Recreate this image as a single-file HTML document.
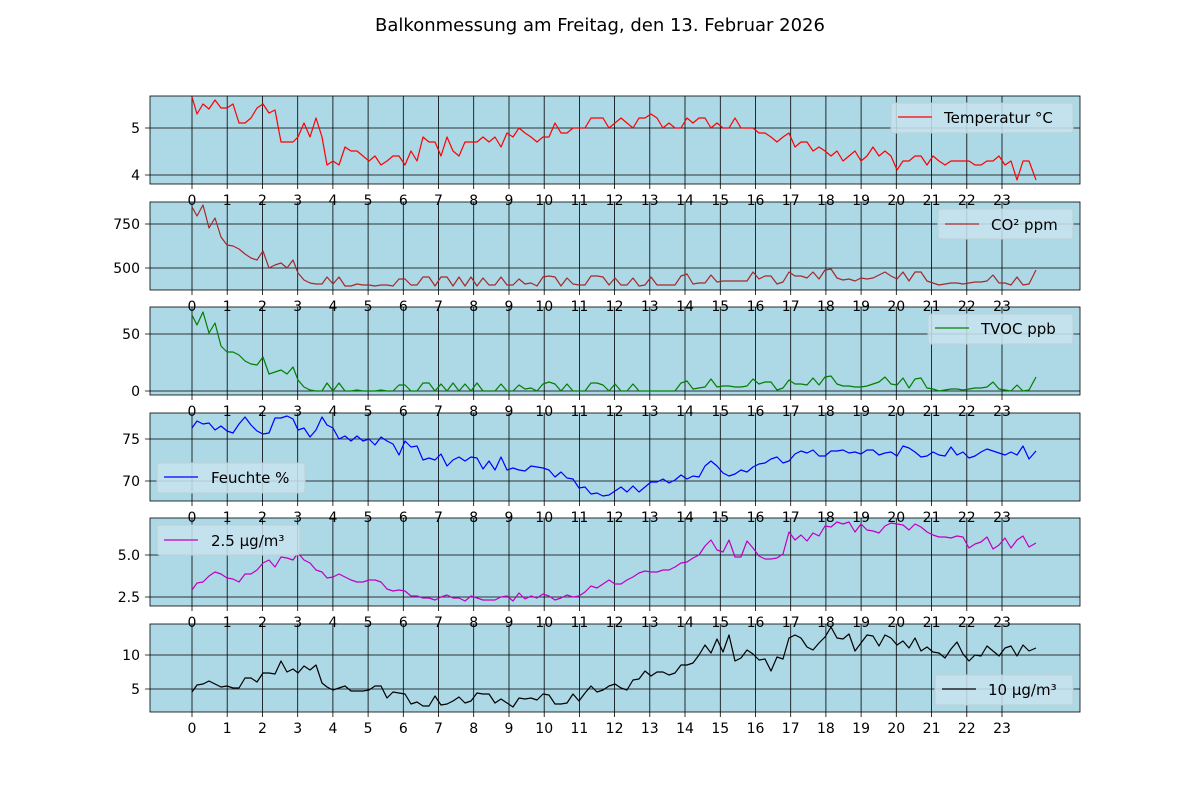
<!DOCTYPE html>
<html><head><meta charset="utf-8"><style>
html,body{margin:0;padding:0;background:#fff;}
svg{display:block;font-family:"DejaVu Sans","Liberation Sans",sans-serif;}
.lbl{font-size:14px;fill:#000;}
</style></head><body>
<svg width="1200" height="800" viewBox="0 0 1200 800" xmlns="http://www.w3.org/2000/svg">
<defs>
<path id="vg" d="M192 0V88M227.2 0V88M262.4 0V88M297.7 0V88M332.9 0V88M368.1 0V88M403.3 0V88M438.5 0V88M473.7 0V88M509 0V88M544.2 0V88M579.4 0V88M614.6 0V88M649.8 0V88M685 0V88M720.3 0V88M755.5 0V88M790.7 0V88M825.9 0V88M861.1 0V88M896.3 0V88M931.6 0V88M966.8 0V88M1002 0V88" stroke="#000" stroke-width="0.8" fill="none"/>
<path id="vt" d="M192 88v5M227.2 88v5M262.4 88v5M297.7 88v5M332.9 88v5M368.1 88v5M403.3 88v5M438.5 88v5M473.7 88v5M509 88v5M544.2 88v5M579.4 88v5M614.6 88v5M649.8 88v5M685 88v5M720.3 88v5M755.5 88v5M790.7 88v5M825.9 88v5M861.1 88v5M896.3 88v5M931.6 88v5M966.8 88v5M1002 88v5" stroke="#000" stroke-width="0.8"/>
</defs>
<text x="600" y="31" text-anchor="middle" style="font-size:18px">Balkonmessung am Freitag, den 13. Februar 2026</text>

<!-- panel backgrounds + grids -->
<g transform="translate(0,96)"><rect x="150" y="0" width="930" height="88" fill="#add8e6"/><use href="#vg"/><use href="#vt"/>
<path d="M150 32H1080M150 79H1080" stroke="#000" stroke-width="0.8"/><path d="M145 32H150M145 79H150" stroke="#000" stroke-width="0.8"/>
<text class="lbl" x="140" y="37" text-anchor="end">5</text><text class="lbl" x="140" y="84" text-anchor="end">4</text></g>
<g transform="translate(0,202)"><rect x="150" y="0" width="930" height="88" fill="#add8e6"/><use href="#vg"/><use href="#vt"/>
<path d="M150 22H1080M150 66H1080" stroke="#000" stroke-width="0.8"/><path d="M145 22H150M145 66H150" stroke="#000" stroke-width="0.8"/>
<text class="lbl" x="140" y="27" text-anchor="end">750</text><text class="lbl" x="140" y="71" text-anchor="end">500</text></g>
<g transform="translate(0,307)"><rect x="150" y="0" width="930" height="88" fill="#add8e6"/><use href="#vg"/><use href="#vt"/>
<path d="M150 27H1080M150 84H1080" stroke="#000" stroke-width="0.8"/><path d="M145 27H150M145 84H150" stroke="#000" stroke-width="0.8"/>
<text class="lbl" x="140" y="32" text-anchor="end">50</text><text class="lbl" x="140" y="89" text-anchor="end">0</text></g>
<g transform="translate(0,413)"><rect x="150" y="0" width="930" height="88" fill="#add8e6"/><use href="#vg"/><use href="#vt"/>
<path d="M150 26H1080M150 68H1080" stroke="#000" stroke-width="0.8"/><path d="M145 26H150M145 68H150" stroke="#000" stroke-width="0.8"/>
<text class="lbl" x="140" y="31" text-anchor="end">75</text><text class="lbl" x="140" y="73" text-anchor="end">70</text></g>
<g transform="translate(0,518)"><rect x="150" y="0" width="930" height="88" fill="#add8e6"/><use href="#vg"/><use href="#vt"/>
<path d="M150 37H1080M150 79H1080" stroke="#000" stroke-width="0.8"/><path d="M145 37H150M145 79H150" stroke="#000" stroke-width="0.8"/>
<text class="lbl" x="140" y="42" text-anchor="end">5.0</text><text class="lbl" x="140" y="84" text-anchor="end">2.5</text></g>
<g transform="translate(0,624)"><rect x="150" y="0" width="930" height="88" fill="#add8e6"/><use href="#vg"/><use href="#vt"/>
<path d="M150 31H1080M150 65H1080" stroke="#000" stroke-width="0.8"/><path d="M145 31H150M145 65H150" stroke="#000" stroke-width="0.8"/>
<text class="lbl" x="140" y="36" text-anchor="end">10</text><text class="lbl" x="140" y="70" text-anchor="end">5</text></g>

<!-- x tick labels -->
<g class="lbl" text-anchor="middle">
<text y="205"><tspan x="192">0</tspan><tspan x="227.2">1</tspan><tspan x="262.4">2</tspan><tspan x="297.7">3</tspan><tspan x="332.9">4</tspan><tspan x="368.1">5</tspan><tspan x="403.3">6</tspan><tspan x="438.5">7</tspan><tspan x="473.7">8</tspan><tspan x="509">9</tspan><tspan x="544.2">10</tspan><tspan x="579.4">11</tspan><tspan x="614.6">12</tspan><tspan x="649.8">13</tspan><tspan x="685">14</tspan><tspan x="720.3">15</tspan><tspan x="755.5">16</tspan><tspan x="790.7">17</tspan><tspan x="825.9">18</tspan><tspan x="861.1">19</tspan><tspan x="896.3">20</tspan><tspan x="931.6">21</tspan><tspan x="966.8">22</tspan><tspan x="1002">23</tspan></text>
<text y="311"><tspan x="192">0</tspan><tspan x="227.2">1</tspan><tspan x="262.4">2</tspan><tspan x="297.7">3</tspan><tspan x="332.9">4</tspan><tspan x="368.1">5</tspan><tspan x="403.3">6</tspan><tspan x="438.5">7</tspan><tspan x="473.7">8</tspan><tspan x="509">9</tspan><tspan x="544.2">10</tspan><tspan x="579.4">11</tspan><tspan x="614.6">12</tspan><tspan x="649.8">13</tspan><tspan x="685">14</tspan><tspan x="720.3">15</tspan><tspan x="755.5">16</tspan><tspan x="790.7">17</tspan><tspan x="825.9">18</tspan><tspan x="861.1">19</tspan><tspan x="896.3">20</tspan><tspan x="931.6">21</tspan><tspan x="966.8">22</tspan><tspan x="1002">23</tspan></text>
<text y="416"><tspan x="192">0</tspan><tspan x="227.2">1</tspan><tspan x="262.4">2</tspan><tspan x="297.7">3</tspan><tspan x="332.9">4</tspan><tspan x="368.1">5</tspan><tspan x="403.3">6</tspan><tspan x="438.5">7</tspan><tspan x="473.7">8</tspan><tspan x="509">9</tspan><tspan x="544.2">10</tspan><tspan x="579.4">11</tspan><tspan x="614.6">12</tspan><tspan x="649.8">13</tspan><tspan x="685">14</tspan><tspan x="720.3">15</tspan><tspan x="755.5">16</tspan><tspan x="790.7">17</tspan><tspan x="825.9">18</tspan><tspan x="861.1">19</tspan><tspan x="896.3">20</tspan><tspan x="931.6">21</tspan><tspan x="966.8">22</tspan><tspan x="1002">23</tspan></text>
<text y="522"><tspan x="192">0</tspan><tspan x="227.2">1</tspan><tspan x="262.4">2</tspan><tspan x="297.7">3</tspan><tspan x="332.9">4</tspan><tspan x="368.1">5</tspan><tspan x="403.3">6</tspan><tspan x="438.5">7</tspan><tspan x="473.7">8</tspan><tspan x="509">9</tspan><tspan x="544.2">10</tspan><tspan x="579.4">11</tspan><tspan x="614.6">12</tspan><tspan x="649.8">13</tspan><tspan x="685">14</tspan><tspan x="720.3">15</tspan><tspan x="755.5">16</tspan><tspan x="790.7">17</tspan><tspan x="825.9">18</tspan><tspan x="861.1">19</tspan><tspan x="896.3">20</tspan><tspan x="931.6">21</tspan><tspan x="966.8">22</tspan><tspan x="1002">23</tspan></text>
<text y="627"><tspan x="192">0</tspan><tspan x="227.2">1</tspan><tspan x="262.4">2</tspan><tspan x="297.7">3</tspan><tspan x="332.9">4</tspan><tspan x="368.1">5</tspan><tspan x="403.3">6</tspan><tspan x="438.5">7</tspan><tspan x="473.7">8</tspan><tspan x="509">9</tspan><tspan x="544.2">10</tspan><tspan x="579.4">11</tspan><tspan x="614.6">12</tspan><tspan x="649.8">13</tspan><tspan x="685">14</tspan><tspan x="720.3">15</tspan><tspan x="755.5">16</tspan><tspan x="790.7">17</tspan><tspan x="825.9">18</tspan><tspan x="861.1">19</tspan><tspan x="896.3">20</tspan><tspan x="931.6">21</tspan><tspan x="966.8">22</tspan><tspan x="1002">23</tspan></text>
<text y="733"><tspan x="192">0</tspan><tspan x="227.2">1</tspan><tspan x="262.4">2</tspan><tspan x="297.7">3</tspan><tspan x="332.9">4</tspan><tspan x="368.1">5</tspan><tspan x="403.3">6</tspan><tspan x="438.5">7</tspan><tspan x="473.7">8</tspan><tspan x="509">9</tspan><tspan x="544.2">10</tspan><tspan x="579.4">11</tspan><tspan x="614.6">12</tspan><tspan x="649.8">13</tspan><tspan x="685">14</tspan><tspan x="720.3">15</tspan><tspan x="755.5">16</tspan><tspan x="790.7">17</tspan><tspan x="825.9">18</tspan><tspan x="861.1">19</tspan><tspan x="896.3">20</tspan><tspan x="931.6">21</tspan><tspan x="966.8">22</tspan><tspan x="1002">23</tspan></text>
</g>

<!-- series -->
<g fill="none" stroke-width="1.2" stroke-linejoin="round">
<polyline stroke="#ff0000" points="192,97 197,114 203,104 209,109 215,100 221,108 227,108 233,104 239,123 245,123 251,118 257,108 263,104 269,113 275,110 281,142 287,142 293,142 298,137 304,123 310,137 316,118 322,137 327,165 333,161 339,165 345,147 351,151 357,151 363,156 369,161 375,156 381,165 387,161 393,156 399,156 405,165 411,151 417,161 423,137 429,142 435,142 441,156 447,137 453,151 459,156 465,142 471,142 477,142 483,137 489,142 495,137 501,147 507,133 513,137 519,128 525,133 531,137 537,142 543,137 549,137 555,123 561,133 567,133 573,128 579,128 585,128 591,118 597,118 603,118 609,128 615,123 621,118 627,123 633,128 639,118 645,118 651,114 657,118 663,128 669,123 675,128 681,128 687,118 693,123 699,118 705,118 711,128 717,123 723,128 729,128 735,118 741,128 747,128 753,128 759,133 765,133 771,137 777,142 783,137 789,133 795,147 801,142 807,142 813,151 819,147 825,151 831,156 837,151 843,161 849,156 855,151 861,161 867,156 873,147 879,156 885,151 891,156 897,170 903,161 909,161 915,156 921,156 927,165 933,156 939,161 945,165 951,161 957,161 963,161 969,161 975,165 981,165 987,161 993,161 999,156 1005,165 1011,161 1017,180 1023,161 1029,161 1036,180"/>
<polyline stroke="#a52a2a" points="192,207 197,216 203,205 209,228 215,218 221,237 227,245 233,246 239,249 245,254 251,258 257,260 263,251 269,268 275,265 281,263 287,268 293,260 298,273 304,280 310,283 316,284 322,284 327,277 333,284 339,277 345,286 351,286 357,284 363,285 369,285 375,286 381,285 387,285 393,286 399,279 405,279 411,285 417,285 423,277 429,277 435,286 441,277 447,277 453,286 459,277 465,286 471,277 477,286 483,278 489,285 495,285 501,277 507,285 513,285 519,279 525,284 531,283 537,286 543,277 549,276 555,277 561,286 567,278 573,284 579,285 585,285 591,276 597,276 603,277 609,285 615,278 621,285 627,285 633,278 639,286 645,285 651,277 657,285 663,285 669,285 675,285 681,276 687,274 693,284 699,283 705,283 711,275 717,282 723,281 729,281 735,281 741,281 747,281 753,272 759,279 765,276 771,276 777,284 783,282 789,272 795,276 801,276 807,278 813,272 819,279 825,270 831,269 837,278 843,280 849,279 855,281 861,278 867,279 873,278 879,275 885,272 891,276 897,279 903,272 909,281 915,272 921,272 927,281 933,283 939,285 945,284 951,283 957,283 963,284 969,283 975,282 981,282 987,281 993,275 999,283 1005,283 1011,285 1017,277 1023,285 1029,284 1036,270"/>
<polyline stroke="#008000" points="192,315 197,325 203,312 209,333 215,323 221,346 227,352 233,352 239,355 245,361 251,364 257,365 263,357 269,374 275,372 281,370 287,374 293,367 298,380 304,387 310,390 316,391 322,391 327,383 333,391 339,383 345,391 351,391 357,390 363,391 369,391 375,391 381,390 387,391 393,391 399,385 405,385 411,391 417,391 423,383 429,383 435,391 441,384 447,391 453,383 459,391 465,384 471,391 477,383 483,391 489,391 495,391 501,384 507,391 513,391 519,385 525,389 531,388 537,391 543,384 549,382 555,384 561,391 567,384 573,391 579,391 585,391 591,383 597,383 603,385 609,391 615,384 621,391 627,391 633,384 639,391 645,391 651,391 657,391 663,391 669,391 675,391 681,383 687,381 693,389 699,388 705,387 711,379 717,387 723,386 729,386 735,387 741,387 747,386 753,379 759,384 765,382 771,382 777,390 783,388 789,380 795,384 801,384 807,385 813,378 819,385 825,377 831,376 837,384 843,386 849,386 855,387 861,387 867,386 873,384 879,382 885,377 891,384 897,385 903,378 909,388 915,379 921,378 927,388 933,389 939,391 945,390 951,389 957,389 963,390 969,389 975,388 981,388 987,387 993,382 999,389 1005,390 1011,391 1017,385 1023,391 1029,390 1036,377"/>
<polyline stroke="#0000ff" points="192,428 197,421 203,424 209,423 215,430 221,426 227,431 233,433 239,424 245,417 251,425 257,431 263,434 269,433 275,418 281,418 287,416 293,419 298,430 304,428 310,437 316,430 322,417 327,425 333,428 339,439 345,436 351,441 357,436 363,441 369,439 375,445 381,437 387,441 393,444 399,455 405,441 411,447 417,446 423,460 429,458 435,460 441,454 447,466 453,460 459,457 465,461 471,457 477,458 483,469 489,461 495,470 501,457 507,470 513,468 519,470 525,471 531,466 537,467 543,468 549,470 555,477 561,472 567,478 573,479 579,488 585,487 591,494 597,493 603,496 609,495 615,491 621,487 627,492 633,486 639,492 645,487 651,482 657,482 663,479 669,483 675,480 681,475 687,479 693,476 699,477 705,466 711,461 717,466 723,473 729,476 735,474 741,470 747,472 753,467 759,464 765,463 771,459 777,457 783,463 789,461 795,454 801,451 807,453 813,450 819,456 825,456 831,451 837,451 843,450 849,453 855,452 861,454 867,450 873,450 879,455 885,453 891,452 897,456 903,446 909,448 915,452 921,457 927,456 933,452 939,455 945,456 951,447 957,455 963,452 969,458 975,456 981,452 987,449 993,451 999,453 1005,455 1011,452 1017,455 1023,446 1029,459 1036,451"/>
<polyline stroke="#bf00bf" points="192,590 197,583 203,582 209,576 215,572 221,574 227,578 233,579 239,582 245,574 251,574 257,570 263,563 269,560 275,567 281,557 287,558 293,560 298,553 304,560 310,563 316,570 322,572 327,578 333,577 339,574 345,577 351,580 357,582 363,582 369,580 375,580 381,582 387,589 393,591 399,590 405,591 411,596 417,596 423,598 429,598 435,600 441,597 447,595 453,598 459,598 465,601 471,596 477,598 483,600 489,600 495,600 501,597 507,596 513,601 519,593 525,599 531,596 537,598 543,594 549,596 555,600 561,598 567,595 573,597 579,596 585,592 591,586 597,588 603,584 609,580 615,584 621,584 627,580 633,577 639,573 645,571 651,572 657,572 663,570 669,570 675,567 681,563 687,562 693,558 699,555 705,546 711,540 717,550 723,552 729,540 735,557 741,557 747,541 753,548 759,556 765,559 771,559 777,558 783,554 789,532 795,540 801,535 807,541 813,533 819,536 825,526 831,527 837,522 843,524 849,522 855,532 861,524 867,530 873,531 879,533 885,526 891,523 897,524 903,525 909,530 915,524 921,527 927,532 933,535 939,537 945,537 951,538 957,536 963,537 969,548 975,544 981,542 987,537 993,549 999,545 1005,538 1011,548 1017,540 1023,536 1029,547 1036,543"/>
<polyline stroke="#000000" points="192,692 197,685 203,684 209,681 215,684 221,687 227,686 233,688 239,688 245,678 251,678 257,682 263,673 269,673 275,674 281,661 287,672 293,669 298,673 304,666 310,670 316,665 322,683 327,687 333,690 339,688 345,686 351,691 357,691 363,691 369,690 375,686 381,686 387,698 393,692 399,693 405,694 411,704 417,702 423,706 429,706 435,696 441,705 447,704 453,701 459,697 465,703 471,701 477,693 483,694 489,694 495,703 501,699 507,703 513,707 519,698 525,699 531,698 537,700 543,694 549,695 555,704 561,704 567,703 573,694 579,701 585,693 591,686 597,692 603,690 609,686 615,684 621,688 627,690 633,680 639,679 645,671 651,676 657,672 663,672 669,675 675,673 681,665 687,665 693,663 699,655 705,645 711,653 717,639 723,652 729,635 735,661 741,658 747,650 753,654 759,660 765,659 771,671 777,657 783,659 789,638 795,635 801,638 807,647 813,650 819,643 825,637 831,627 837,638 843,639 849,634 855,651 861,643 867,635 873,636 879,646 885,635 891,638 897,645 903,641 909,648 915,638 921,651 927,647 933,652 939,653 945,658 951,649 957,642 963,654 969,661 975,655 981,656 987,646 993,651 999,656 1005,648 1011,646 1017,656 1023,645 1029,651 1036,648"/>
</g>

<!-- axes frames -->
<g fill="none" stroke="#000" stroke-width="0.8">
<rect x="150" y="96" width="930" height="88"/><rect x="150" y="202" width="930" height="88"/><rect x="150" y="307" width="930" height="88"/>
<rect x="150" y="413" width="930" height="88"/><rect x="150" y="518" width="930" height="88"/><rect x="150" y="624" width="930" height="88"/>
</g>

<!-- legends -->
<g font-size="15">
<rect x="891" y="103" width="182" height="30" rx="3" fill="#c8e4ee" fill-opacity="0.85" stroke="#c0cfd4"/>
<line x1="898" y1="117" x2="932" y2="117" stroke="#ff0000" stroke-width="1.3"/><text x="944" y="123">Temperatur °C</text>
<rect x="938" y="209" width="135" height="30" rx="3" fill="#c8e4ee" fill-opacity="0.85" stroke="#c0cfd4"/>
<line x1="945" y1="224" x2="979" y2="224" stroke="#a52a2a" stroke-width="1.3"/><text x="991" y="230">CO² ppm</text>
<rect x="928" y="314" width="145" height="30" rx="3" fill="#c8e4ee" fill-opacity="0.85" stroke="#c0cfd4"/>
<line x1="935" y1="328" x2="969" y2="328" stroke="#008000" stroke-width="1.3"/><text x="981" y="334">TVOC ppb</text>
<rect x="157" y="463" width="148" height="30" rx="3" fill="#c8e4ee" fill-opacity="0.85" stroke="#c0cfd4"/>
<line x1="164" y1="477" x2="198" y2="477" stroke="#0000ff" stroke-width="1.3"/><text x="211" y="483">Feuchte %</text>
<rect x="157" y="525" width="143" height="30" rx="3" fill="#c8e4ee" fill-opacity="0.85" stroke="#c0cfd4"/>
<line x1="164" y1="540" x2="198" y2="540" stroke="#bf00bf" stroke-width="1.3"/><text x="211" y="546">2.5 µg/m³</text>
<rect x="935" y="675" width="138" height="30" rx="3" fill="#c8e4ee" fill-opacity="0.85" stroke="#c0cfd4"/>
<line x1="942" y1="689" x2="976" y2="689" stroke="#000" stroke-width="1.3"/><text x="988" y="695">10 µg/m³</text>
</g>
</svg>
</body></html>
